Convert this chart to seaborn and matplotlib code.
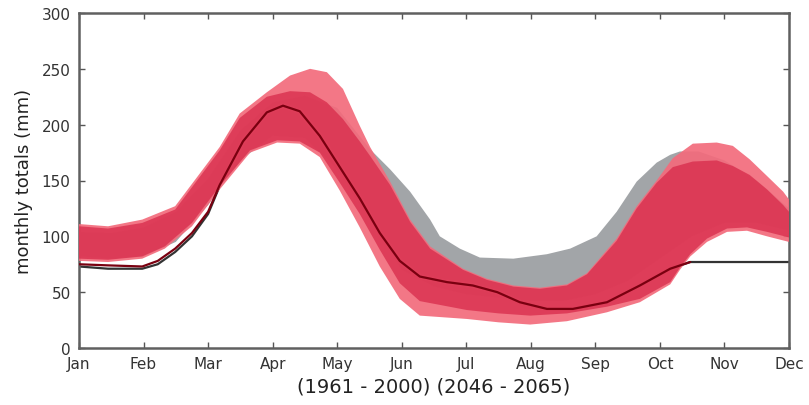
import numpy as np
import pandas as pd
import matplotlib
matplotlib.use("Agg")
import matplotlib.pyplot as plt
import matplotlib.patheffects as pe
import seaborn as sns

# ---- data (x in months, Jan = 0) ----
months = ["Jan", "Feb", "Mar", "Apr", "May", "Jun", "Jul", "Aug", "Sep", "Oct", "Nov", "Dec"]

# baseline (1961-2000) mean line
line_x = [0, 0.45, 0.98, 1.22, 1.49, 1.75, 2.0, 2.18, 2.54, 2.91, 3.16, 3.42, 3.73, 4.04,
          4.35, 4.66, 4.97, 5.28, 5.70, 6.10, 6.48, 6.83, 7.25, 7.65, 8.18, 8.69, 9.16,
          9.47, 10.0, 11.0]
baseline_mean = [73, 71, 71, 75, 86, 100, 120, 145, 185, 211, 217, 212, 190, 162,
                 134, 103, 78, 64, 59, 56, 50, 41, 35, 35, 41, 56, 71,
                 77, 77, 77]
# future (2046-2065) mean line, ends where it joins the baseline line
future_x = [0, 0.45, 0.98, 1.22, 1.49, 1.75, 2.0, 2.18, 2.54, 2.91, 3.16, 3.42, 3.73, 4.04,
            4.35, 4.66, 4.97, 5.28, 5.70, 6.10, 6.48, 6.83, 7.25, 7.65, 8.18, 8.69, 9.16,
            9.47]
future_mean = [75, 74, 73, 78, 89, 103, 122, 146, 185, 211, 217, 212, 190, 162,
               134, 103, 78, 64, 59, 56, 50, 41, 35, 35, 41, 56, 71,
               77]

# baseline range (grey)
grey_up_x = [0, 0.5, 1, 1.5, 2, 2.5, 3, 3.5, 4, 4.51, 4.82, 5.13, 5.44, 5.59, 5.90, 6.21,
             6.73, 7.25, 7.61, 8.02, 8.33, 8.64, 8.95, 9.16, 9.31, 9.6, 10, 10.5, 11]
grey_upper = [104, 103, 108, 122, 152, 195, 220, 226, 215, 178, 160, 140, 115, 100, 89, 81,
              80, 84, 89, 100, 122, 149, 166, 173, 176, 176, 168, 150, 125]
grey_low_x = [0, 0.5, 1, 1.5, 2, 2.5, 3, 3.5, 4, 4.5, 5, 5.5, 6, 6.5, 7, 7.5, 8, 8.5, 9,
              9.5, 10, 10.5, 11]
grey_lower = [82, 80, 82, 95, 128, 168, 190, 188, 160, 115, 70, 55, 48, 45, 42, 42, 48, 60,
              80, 100, 112, 112, 105]

# future range (red): outer (light) and inner (dark) envelopes
up_x = [0, 0.45, 0.98, 1.49, 1.92, 2.18, 2.49, 2.91, 3.27, 3.58, 3.84, 4.09, 4.35, 4.51,
        4.82, 5.13, 5.44, 5.95, 6.32, 6.73, 7.14, 7.56, 7.87, 8.33, 8.64, 8.95, 9.20,
        9.51, 9.88, 10.13, 10.39, 10.66, 10.91, 11.0]
outer_upper = [111, 109, 115, 127, 160, 180, 210, 229, 244, 250, 247, 232, 199, 180,
               149, 115, 91, 71, 62, 56, 54, 57, 67, 98, 127, 150, 170,
               183, 184, 181, 169, 154, 140, 133]
inner_upper = [109, 107, 112, 124, 157, 177, 206, 225, 230, 229, 220, 205, 185, 172,
               146, 113, 89, 70, 61, 55, 53, 56, 66, 96, 125, 148, 162,
               167, 168, 163, 155, 142, 128, 122]
low_x = [0, 0.45, 0.98, 1.33, 1.75, 2.18, 2.65, 3.07, 3.42, 3.73, 4.04, 4.35, 4.66, 4.97,
         5.28, 6.01, 6.5, 6.99, 7.56, 8.18, 8.69, 9.16, 9.31, 9.47, 9.73, 10.04, 10.35,
         10.66, 11.0]
outer_lower = [78, 77, 80, 89, 109, 142, 175, 184, 183, 171, 141, 108, 73, 44,
               29, 26, 23, 21, 24, 32, 41, 57, 70, 82, 95, 104, 105,
               100, 95]
inner_lower = [80, 79, 82, 91, 112, 145, 177, 186, 185, 175, 148, 120, 88, 58,
               42, 34, 31, 29, 31, 37, 44, 59, 72, 84, 98, 107, 108,
               104, 99]

xlabel_text = "(1961 - 2000) (2046 - 2065)"
ylabel_text = "monthly totals (mm)"


def band(ax, xu, yu, xl, yl, **kw):
    xs = list(xu) + list(xl)[::-1]
    ys = list(yu) + list(yl)[::-1]
    ax.fill(xs, ys, lw=0, **kw)


# ---- styling ----
sns.set_theme(style="white")
plt.rcParams["font.family"] = ["DejaVu Sans"]

fig = plt.figure(figsize=(8.09, 4.06), dpi=100)
ax = fig.add_axes([79 / 809, 1 - 349 / 406, (789 - 79) / 809, (349 - 14) / 406])

band(ax, grey_up_x, grey_upper, grey_low_x, grey_lower, color="#a2a5a8", zorder=1)

sns.lineplot(x=line_x, y=baseline_mean, ax=ax, color="#333333", lw=1.6, zorder=2,
             path_effects=[pe.Stroke(linewidth=3.5, foreground="white"), pe.Normal()])

band(ax, up_x, outer_upper, low_x, outer_lower, color="#f36b7c", alpha=0.92, zorder=3)
band(ax, up_x, inner_upper, low_x, inner_lower, color="#d92f4e", alpha=0.8, zorder=4)

sns.lineplot(x=future_x, y=future_mean, ax=ax, color="#7a0010", lw=1.6, zorder=5)

ax.set_xlim(0, 11)
ax.set_ylim(0, 300)
ax.set_xticks(range(12))
ax.set_xticklabels(months)
ax.set_yticks(range(0, 301, 50))

ax.tick_params(direction="in", length=4, width=1, colors="#555555", labelcolor="#333333",
               labelsize=11, top=True, right=True, bottom=True, left=True, pad=6)
for s in ax.spines.values():
    s.set_color("#606060")
    s.set_linewidth(1.8)

ax.set_xlabel(xlabel_text, fontsize=14, color="#222222", labelpad=4)
ax.set_ylabel(ylabel_text, fontsize=13, color="#222222", labelpad=6)

fig.savefig("out.png", dpi=100, facecolor="white")
